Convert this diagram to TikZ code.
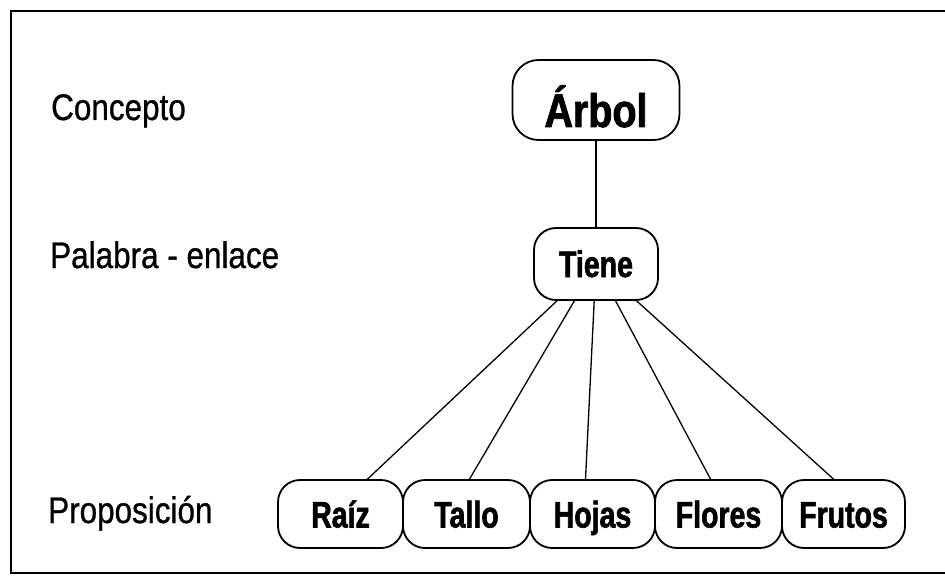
\documentclass[tikz,border=0pt]{standalone}
\usepackage{fontspec}
\setmainfont{Liberation Sans}
\newfontfamily\labfont[FakeStretch=0.85,FakeBold=0.8]{Liberation Sans}
\newfontfamily\boxfont[FakeStretch=0.77,FakeBold=1.6]{Liberation Sans}
\newfontfamily\bigfont[FakeStretch=0.84,FakeBold=1.8]{Liberation Sans}
\begin{document}
\begin{tikzpicture}[x=1pt,y=-1pt,
  box/.style={draw, line width=1.8pt, rounded corners=22pt, inner sep=0pt,
    minimum height=68pt, text height=27pt, text depth=0pt,
    font=\boxfont\bfseries\fontsize{37}{40}\selectfont},
  lab/.style={anchor=base west, inner sep=0pt, font=\labfont\fontsize{37}{40}\selectfont},
  conn/.style={line width=1.3pt}]
\useasboundingbox (0,0) rectangle (945,580);
\draw[line width=1.4pt] (950,11) -- (11,11) -- (11,573) -- (950,573);
% labels
\node[lab] (lconcepto) at (51,120) {Concepto};
\node[lab] (lpalabra) at (50,268) {Palabra - enlace};
\node[lab] (lprop) at (48,523) {Proposición};
% nodes
\node[box, minimum width=167pt, minimum height=80pt, rounded corners=26pt,
  text height=54pt, font=\bigfont\bfseries\fontsize{47}{50}\selectfont] (arbol) at (596,100) {Árbol};
\node[box, minimum width=124pt, minimum height=72pt, text height=26pt] (tiene) at (596,264) {Tiene};
\node[box, minimum width=125pt] (raiz) at (340.5,514) {Raíz};
\node[box, minimum width=127pt] (tallo) at (466.5,514) {Tallo};
\node[box, minimum width=125pt] (hojas) at (592.5,514) {Hojas};
\node[box, minimum width=127pt] (flores) at (718.5,514) {Flores};
\node[box, minimum width=123pt] (frutos) at (843.5,514) {Frutos};
% connectors
\draw[conn] (arbol.south) -- (tiene.north);
\draw[conn] (tiene) -- ([xshift=27pt]raiz.north);
\draw[conn] (tiene) -- ([xshift=3pt]tallo.north);
\draw[conn] (tiene) -- ([xshift=-7pt]hojas.north);
\draw[conn] (tiene) -- ([xshift=-8pt]flores.north);
\draw[conn] (tiene) -- ([xshift=-10pt]frutos.north);
\end{tikzpicture}
\end{document}
